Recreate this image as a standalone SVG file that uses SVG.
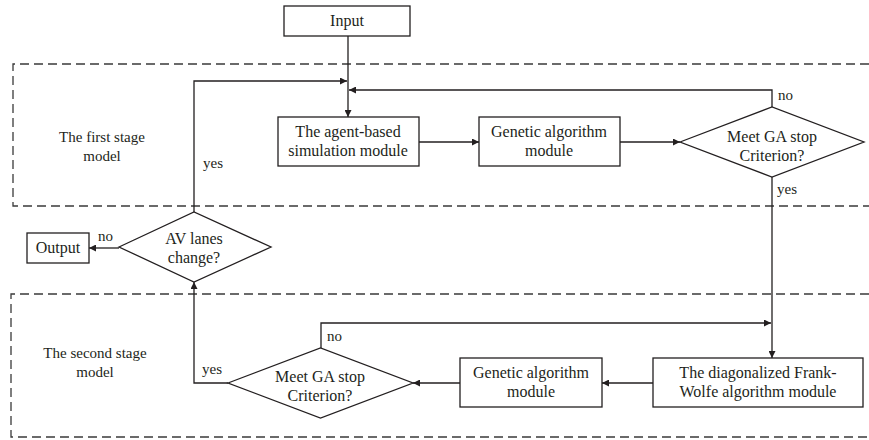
<svg xmlns="http://www.w3.org/2000/svg" width="869" height="440" viewBox="0 0 869 440">
<defs>
<marker id="arr" viewBox="0 0 10 10" refX="10" refY="5" markerWidth="7" markerHeight="7" markerUnits="userSpaceOnUse" orient="auto">
<path d="M0,0 L10,5 L0,10 z" fill="#231f20"/>
</marker>
<style>
.box{fill:#fff;stroke:#231f20;stroke-width:1.3}
.dash{fill:none;stroke:#3a3a3a;stroke-width:1.3;stroke-dasharray:9 5}
.ln{fill:none;stroke:#231f20;stroke-width:1.3}
.t{font-family:"Liberation Serif","Times New Roman",serif;font-size:16px;fill:#231f20;text-anchor:middle}
.lb{font-family:"Liberation Serif","Times New Roman",serif;font-size:15px;fill:#231f20}
</style>
</defs>
<rect width="869" height="440" fill="#fff"/>
<g id="stage1">
<path class="dash" d="M869,64 H13 V206 H869"/>
<text class="t" x="102" y="142" style="font-size:15px">The first stage</text>
<text class="t" x="102" y="161" style="font-size:15px">model</text>
</g>
<g id="stage2">
<path class="dash" d="M869,294 H11 V437 H869"/>
<text class="t" x="95" y="358" style="font-size:15px">The second stage</text>
<text class="t" x="95" y="377" style="font-size:15px">model</text>
</g>
<g id="connectors">
<path class="ln" d="M348,36 V117" marker-end="url(#arr)"/>
<path class="ln" d="M194,212 V81 H347" marker-end="url(#arr)"/>
<path class="ln" d="M772,107 V90 H349" marker-end="url(#arr)"/>
<path class="ln" d="M419,142 H479" marker-end="url(#arr)"/>
<path class="ln" d="M620,142 H680" marker-end="url(#arr)"/>
<path class="ln" d="M772,177 V358" marker-end="url(#arr)"/>
<path class="ln" d="M653,383 H602" marker-end="url(#arr)"/>
<path class="ln" d="M460,383 H413" marker-end="url(#arr)"/>
<path class="ln" d="M321,348 V323 H771" marker-end="url(#arr)"/>
<path class="ln" d="M228,383 H194 V282" marker-end="url(#arr)"/>
<path class="ln" d="M119,248 H89" marker-end="url(#arr)"/>
<text class="lb" x="778" y="100">no</text>
<text class="lb" x="777" y="194">yes</text>
<text class="lb" x="203" y="168">yes</text>
<text class="lb" x="98" y="241">no</text>
<text class="lb" x="327" y="341">no</text>
<text class="lb" x="202" y="374">yes</text>
</g>
<g id="input">
<rect class="box" x="284" y="6" width="126" height="30"/>
<text class="t" x="347" y="26">Input</text>
</g>
<g id="agent">
<rect class="box" x="278" y="117" width="141" height="49"/>
<text class="t" x="348" y="137">The agent-based</text>
<text class="t" x="348" y="156">simulation module</text>
</g>
<g id="ga1">
<rect class="box" x="479" y="117" width="141" height="49"/>
<text class="t" x="549" y="137">Genetic algorithm</text>
<text class="t" x="549" y="156">module</text>
</g>
<g id="stop1">
<polygon class="box" points="680,142 772,107 864,142 772,177"/>
<text class="t" x="772" y="142">Meet GA stop</text>
<text class="t" x="772" y="161">Criterion?</text>
</g>
<g id="fw">
<rect class="box" x="653" y="358" width="210" height="49"/>
<text class="t" x="758" y="378">The diagonalized Frank-</text>
<text class="t" x="758" y="397">Wolfe algorithm module</text>
</g>
<g id="ga2">
<rect class="box" x="460" y="358" width="142" height="49"/>
<text class="t" x="531" y="378">Genetic algorithm</text>
<text class="t" x="531" y="397">module</text>
</g>
<g id="stop2">
<polygon class="box" points="228,383 320.5,348 413,383 320.5,418"/>
<text class="t" x="320" y="382">Meet GA stop</text>
<text class="t" x="320" y="401">Criterion?</text>
</g>
<g id="av">
<polygon class="box" points="119,247 194,212 271,247 194,282"/>
<text class="t" x="194" y="244">AV lanes</text>
<text class="t" x="194" y="263">change?</text>
</g>
<g id="output">
<rect class="box" x="27" y="233" width="62" height="30"/>
<text class="t" x="58" y="253">Output</text>
</g>
</svg>
